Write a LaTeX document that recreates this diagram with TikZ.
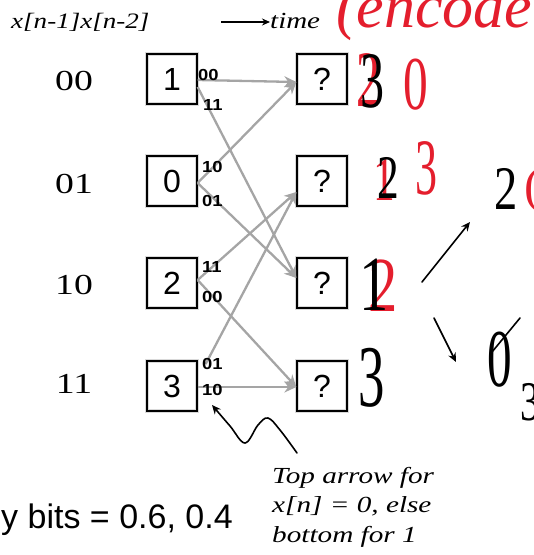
\documentclass[tikz,border=0pt]{standalone}
\usepackage{fontspec}
\setmainfont{Liberation Serif}
\setsansfont{Liberation Sans}
\usetikzlibrary{arrows.meta}
\definecolor{penred}{RGB}{228,30,45}
\definecolor{transgray}{RGB}{165,165,165}
\begin{document}
\begin{tikzpicture}[x=1pt,y=-1pt,
  statebox/.style={draw=black, line width=1.3pt, preaction={draw=gray!30, line width=3.5pt}, minimum width=50pt, minimum height=50pt, inner sep=0pt, font=\sffamily\fontsize{32}{32}\selectfont},
  rowlab/.style={font=\fontsize{29}{29}\selectfont, inner sep=0pt},
  bitlab/.style={font=\sffamily\bfseries\fontsize{16}{16}\selectfont, inner sep=0pt, anchor=west},
  trans/.style={draw=transgray, line width=2.3pt, -{Stealth[length=12pt,width=11pt]}},
  hand/.style={font=\fontsize{52}{52}\selectfont, inner sep=0pt},
  pen/.style={line width=1.6pt, line cap=round, line join=round},
]
\useasboundingbox (0,0) rectangle (534,555);
\clip (0,0) rectangle (534,555);

% header
\node[anchor=base west, inner sep=0pt, font=\itshape\fontsize{22}{22}\selectfont] (hdr) at (11,28) {\scalebox{1.23}[1]{x[n-1]x[n-2]}};
\node[anchor=base west, inner sep=0pt, font=\itshape\fontsize{23}{23}\selectfont] (time) at (270,28) {\scalebox{1.26}[1]{time}};
\coordinate (tstart) at (221,22);
\draw[line width=1.8pt, -{Stealth[length=8pt,width=7pt]}] (tstart) -- (time.west |- tstart);

% row labels
\node[rowlab] (r00) at (74,81) {\scalebox{1.3}[1]{00}};
\node[rowlab] (r01) at (74,184) {\scalebox{1.3}[1]{01}};
\node[rowlab] (r10) at (74,285) {\scalebox{1.3}[1]{10}};
\node[rowlab] (r11) at (74,384) {\scalebox{1.3}[1]{11}};

% state boxes
\node[statebox] (L1) at (172,79) {1};
\node[statebox] (L0) at (172,181) {0};
\node[statebox] (L2) at (172,283) {2};
\node[statebox] (L3) at (172,386) {3};
\node[statebox] (R1) at (322,79) {?};
\node[statebox] (R2) at (322,181) {?};
\node[statebox] (R3) at (322,283) {?};
\node[statebox] (R4) at (322,386) {?};

% transitions
\draw[trans] ([yshift=-1pt]L1.east) -- ([yshift=-3pt]R1.west);
\draw[trans] ([yshift=-8pt]L1.east) -- ([yshift=5pt]R3.west);
\draw[trans] ([yshift=-2pt]L0.east) -- ([yshift=-3pt]R1.west);
\draw[trans] ([yshift=-2pt]L0.east) -- ([yshift=5pt]R3.west);
\draw[trans] ([yshift=3pt]L2.east) -- ([yshift=-11pt]R2.west);
\draw[trans] ([yshift=3pt]L2.east) -- ([yshift=-1pt]R4.west);
\draw[trans] ([xshift=8pt,yshift=22pt]L3.east) -- ([yshift=-11pt]R2.west);
\draw[trans] ([yshift=-1pt]L3.east) -- ([yshift=-1pt]R4.west);

% bit labels
\node[bitlab] (b1a) at (198,75) {\scalebox{1.15}[1]{00}};
\node[bitlab] (b1b) at (203,105) {\scalebox{1.15}[1]{11}};
\node[bitlab] (b0a) at (202,167) {\scalebox{1.15}[1]{10}};
\node[bitlab] (b0b) at (202,201) {\scalebox{1.15}[1]{01}};
\node[bitlab] (b2a) at (202,267) {\scalebox{1.15}[1]{11}};
\node[bitlab] (b2b) at (202,297) {\scalebox{1.15}[1]{00}};
\node[bitlab] (b3a) at (202,364) {\scalebox{1.15}[1]{01}};
\node[bitlab] (b3b) at (202,390) {\scalebox{1.15}[1]{10}};

% bottom texts
\node[anchor=base west, inner sep=0pt, font=\sffamily\fontsize{34}{34}\selectfont] (ent) at (1,528) {y bits = 0.6, 0.4};
\node[anchor=north west, inner sep=0pt, align=left, font=\itshape\fontsize{23}{29.5}\selectfont] (note) at (272,467) {\scalebox{1.27}[1]{Top arrow for}\\ \scalebox{1.27}[1]{x[n] = 0, else}\\ \scalebox{1.27}[1]{bottom for 1}};

% handwritten pointer
\coordinate (hp) at (297,453);
\draw[pen, -{Stealth[length=9pt,width=8pt]}] plot[smooth, tension=0.6] coordinates {(hp) (280,430) (268,418) (258,425) (245,443) (230,426) (212,405)};

% handwritten notes
\node[anchor=base west, inner sep=0pt, text=penred, font=\itshape\fontsize{62}{62}\selectfont] (enc) at (336,27) {(encode};
\node[hand, text=penred, font=\fontsize{80}{80}\selectfont] (h1r) at (368,80) {\scalebox{0.6}[1]{2}};
\node[hand, text=black, font=\fontsize{80}{80}\selectfont] (h1b) at (372,81) {\scalebox{0.6}[1]{3}};
\node[hand, text=penred, font=\fontsize{76}{76}\selectfont] (h1c) at (416,85) {\scalebox{0.65}[1]{0}};
\node[hand, text=penred, font=\fontsize{62}{62}\selectfont] (h2r) at (384,180) {\scalebox{0.7}[1]{1}};
\node[hand, text=black, font=\fontsize{62}{62}\selectfont] (h2b) at (388,178) {\scalebox{0.7}[1]{2}};
\node[hand, text=penred, font=\fontsize{80}{80}\selectfont] (h2c) at (426,168) {\scalebox{0.55}[1]{3}};
\node[hand, text=penred, font=\fontsize{78}{78}\selectfont] (h3r) at (383,286) {\scalebox{0.75}[1]{2}};
\node[hand, text=black, font=\fontsize{78}{78}\selectfont] (h3b) at (374,285) {\scalebox{0.75}[1]{1}};
\node[hand, text=black, font=\fontsize{88}{88}\selectfont] (h4b) at (372,378) {\scalebox{0.6}[1]{3}};
\node[hand, text=black, font=\fontsize{62}{62}\selectfont] (h5) at (506,189) {\scalebox{0.75}[1]{2}};
\node[hand, text=penred, font=\fontsize{50}{50}\selectfont] (h5p) at (533,190) {(};
\node[hand, text=black, font=\fontsize{82}{82}\selectfont] (h6) at (500,360) {\scalebox{0.6}[1]{0}};
\node[hand, text=black, font=\fontsize{56}{56}\selectfont] (h7) at (530,402) {\scalebox{0.7}[1]{3}};
\coordinate (s1) at (520,318);
\coordinate (s2) at (492,352);
\draw[pen] (s1) -- (s2);
\coordinate (a1s) at (422,282);
\coordinate (a1e) at (470,222);
\draw[pen, -{Stealth[length=9pt,width=8pt]}] (a1s) -- (a1e);
\coordinate (a2s) at (434,318);
\coordinate (a2e) at (456,362);
\draw[pen, -{Stealth[length=9pt,width=8pt]}] (a2s) -- (a2e);
\end{tikzpicture}
\end{document}
